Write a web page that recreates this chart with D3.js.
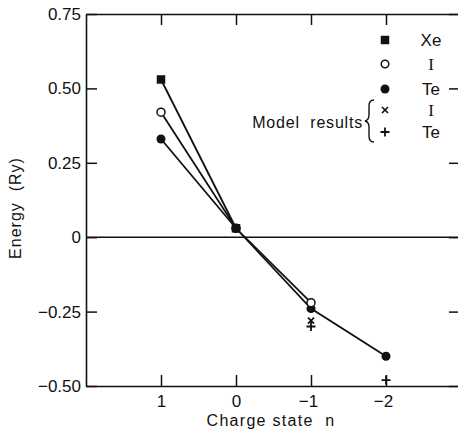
<!DOCTYPE html>
<html><head><meta charset="utf-8">
<script src="https://cdn.jsdelivr.net/npm/d3@7"></script>
<style>
html,body{margin:0;background:#fff;overflow:hidden;}
svg{display:block;overflow:hidden;}
text{font-family:"Liberation Sans",Arial,sans-serif;fill:#111;}
</style></head>
<body>
<svg id="c" width="458" height="431"></svg>
<script>
// ---- data ----
const xTickValues = [1, 0, -1, -2];
const xTickLabels = ["1", "0", "\u22121", "\u22122"];
const yTickValues = [0.75, 0.5, 0.25, 0, -0.25, -0.5];
const yTickLabels = ["0.75", "0.50", "0.25", "0", "\u22120.25", "\u22120.50"];

const xeCharge = [1, 0];
const xeEnergy = [0.53, 0.03];
const iCharge = [1, 0, -1];
const iEnergy = [0.42, 0.03, -0.22];
const teCharge = [1, 0, -1, -2];
const teEnergy = [0.33, 0.03, -0.24, -0.40];
const modelICharge = [-1];
const modelIEnergy = [-0.28];
const modelTeCharge = [-1, -2];
const modelTeEnergy = [-0.30, -0.48];

const legendLabels = ["Xe", "I", "Te", "I", "Te"];
const legendTitle = "Model  results";
const xTitle = "Charge state  n";
const yTitle = "Energy  (Ry)";

// ---- layout ----
const svg = d3.select("#c");
const ink = "#111";
const x = d3.scaleLinear().domain([2, -3]).range([86, 461]);
const y = d3.scaleLinear().domain([-0.5, 0.75]).range([386, 14]);

function styleAxis(g) {
  g.selectAll("path.domain").attr("stroke", ink).attr("stroke-width", 1.6);
  g.selectAll(".tick line").attr("stroke", ink).attr("stroke-width", 1.5);
  g.selectAll(".tick text").attr("fill", ink).style("font-size", "17px")
    .style("font-family", '"Liberation Sans",Arial,sans-serif');
}

// axes
const gL = svg.append("g").attr("transform", `translate(${x(2)},0)`)
  .call(d3.axisLeft(y).tickValues(yTickValues).tickSize(-11).tickSizeOuter(0).tickPadding(5)
    .tickFormat((d, i) => yTickLabels[i]));
styleAxis(gL);
const gB = svg.append("g").attr("transform", `translate(0,${y(-0.5)})`)
  .call(d3.axisBottom(x).tickValues(xTickValues).tickSize(-11).tickSizeOuter(0).tickPadding(9)
    .tickFormat((d, i) => xTickLabels[i]));
styleAxis(gB);
gB.selectAll(".tick text").attr("dx", (d) => d < 0 ? "-3px" : 0);
const gT = svg.append("g").attr("transform", `translate(0,${y(0.75)})`)
  .call(d3.axisTop(x).tickValues(xTickValues).tickSize(-11).tickSizeOuter(0).tickFormat(""));
styleAxis(gT);
const gR = svg.append("g").attr("transform", `translate(${x(-3)},0)`)
  .call(d3.axisRight(y).tickValues(yTickValues).tickSize(-12).tickSizeOuter(0).tickFormat(""));
styleAxis(gR);
gR.select("path.domain").remove();

// zero line
svg.append("line").attr("x1", x(2)).attr("x2", x(-3)).attr("y1", y(0)).attr("y2", y(0))
  .attr("stroke", ink).attr("stroke-width", 1.5);

// series lines
const line = d3.line().x(d => x(d[0])).y(d => y(d[1]));
const series = [
  [xeCharge, xeEnergy],
  [iCharge, iEnergy],
  [teCharge, teEnergy]
];
series.forEach(([cx, cy]) => {
  svg.append("path").datum(cx.map((c, i) => [c, cy[i]]))
    .attr("d", line).attr("fill", "none").attr("stroke", ink).attr("stroke-width", 1.8);
});

// markers
function square(g, px, py, s) {
  g.append("rect").attr("x", px - s / 2).attr("y", py - s / 2).attr("width", s).attr("height", s).attr("fill", ink);
}
function openCircle(g, px, py, r) {
  g.append("circle").attr("cx", px).attr("cy", py).attr("r", r).attr("fill", "#fff").attr("stroke", ink).attr("stroke-width", 1.5);
}
function dot(g, px, py, r) {
  g.append("circle").attr("cx", px).attr("cy", py).attr("r", r).attr("fill", ink);
}
function cross(g, px, py, s) {
  g.append("path").attr("d", `M${px - s},${py - s}L${px + s},${py + s}M${px - s},${py + s}L${px + s},${py - s}`)
    .attr("stroke", ink).attr("stroke-width", 1.7);
}
function plus(g, px, py, s) {
  g.append("path").attr("d", `M${px - s},${py}L${px + s},${py}M${px},${py - s}L${px},${py + s}`)
    .attr("stroke", ink).attr("stroke-width", 1.8);
}

const m = svg.append("g");
teCharge.forEach((c, i) => dot(m, x(c), y(teEnergy[i]), 4.5));
iCharge.forEach((c, i) => openCircle(m, x(c), y(iEnergy[i]), 4));
xeCharge.forEach((c, i) => square(m, x(c), y(xeEnergy[i]), 8.5));
modelICharge.forEach((c, i) => cross(m, x(c), y(modelIEnergy[i]), 3));
modelTeCharge.forEach((c, i) => plus(m, x(c), y(modelTeEnergy[i]), 4.5));

// legend
const lg = svg.append("g");
const lx = 385, tx = 431;
const ly = [40, 64, 89, 110, 132];
square(lg, lx, ly[0], 8.5);
openCircle(lg, lx, ly[1], 3.8);
dot(lg, lx, ly[2], 4.5);
cross(lg, lx, ly[3], 3);
plus(lg, lx, ly[4], 4.5);
legendLabels.forEach((t, i) => {
  lg.append("text").attr("x", tx).attr("y", ly[i]).attr("dy", "0.36em")
    .attr("text-anchor", "middle").style("font-size", "17px")
    .style("font-family", t === "I" ? '"Liberation Serif",serif' : '"Liberation Sans",Arial,sans-serif')
    .text(t);
});
lg.append("text").attr("x", 363).attr("y", 122).attr("dy", "0.36em").attr("text-anchor", "end")
  .style("font-size", "16px").style("letter-spacing", "0.8px").style("white-space", "pre")
  .attr("xml:space", "preserve").text(legendTitle);
// brace
lg.append("path").attr("d", "M374,100 Q369,100 369,106 L369,115 Q369,120 365,121 Q369,122 369,127 L369,136 Q369,142 374,142")
  .attr("fill", "none").attr("stroke", ink).attr("stroke-width", 1.4);

// axis titles
svg.append("text").attr("x", 271).attr("y", 426).attr("text-anchor", "middle")
  .style("font-size", "16px").style("letter-spacing", "1.3px").style("white-space", "pre")
  .attr("xml:space", "preserve").text(xTitle);
svg.append("text").attr("transform", "translate(21,208) rotate(-90)").attr("text-anchor", "middle")
  .style("font-size", "16px").style("letter-spacing", "1px").style("white-space", "pre")
  .attr("xml:space", "preserve").text(yTitle);
</script>
</body></html>
